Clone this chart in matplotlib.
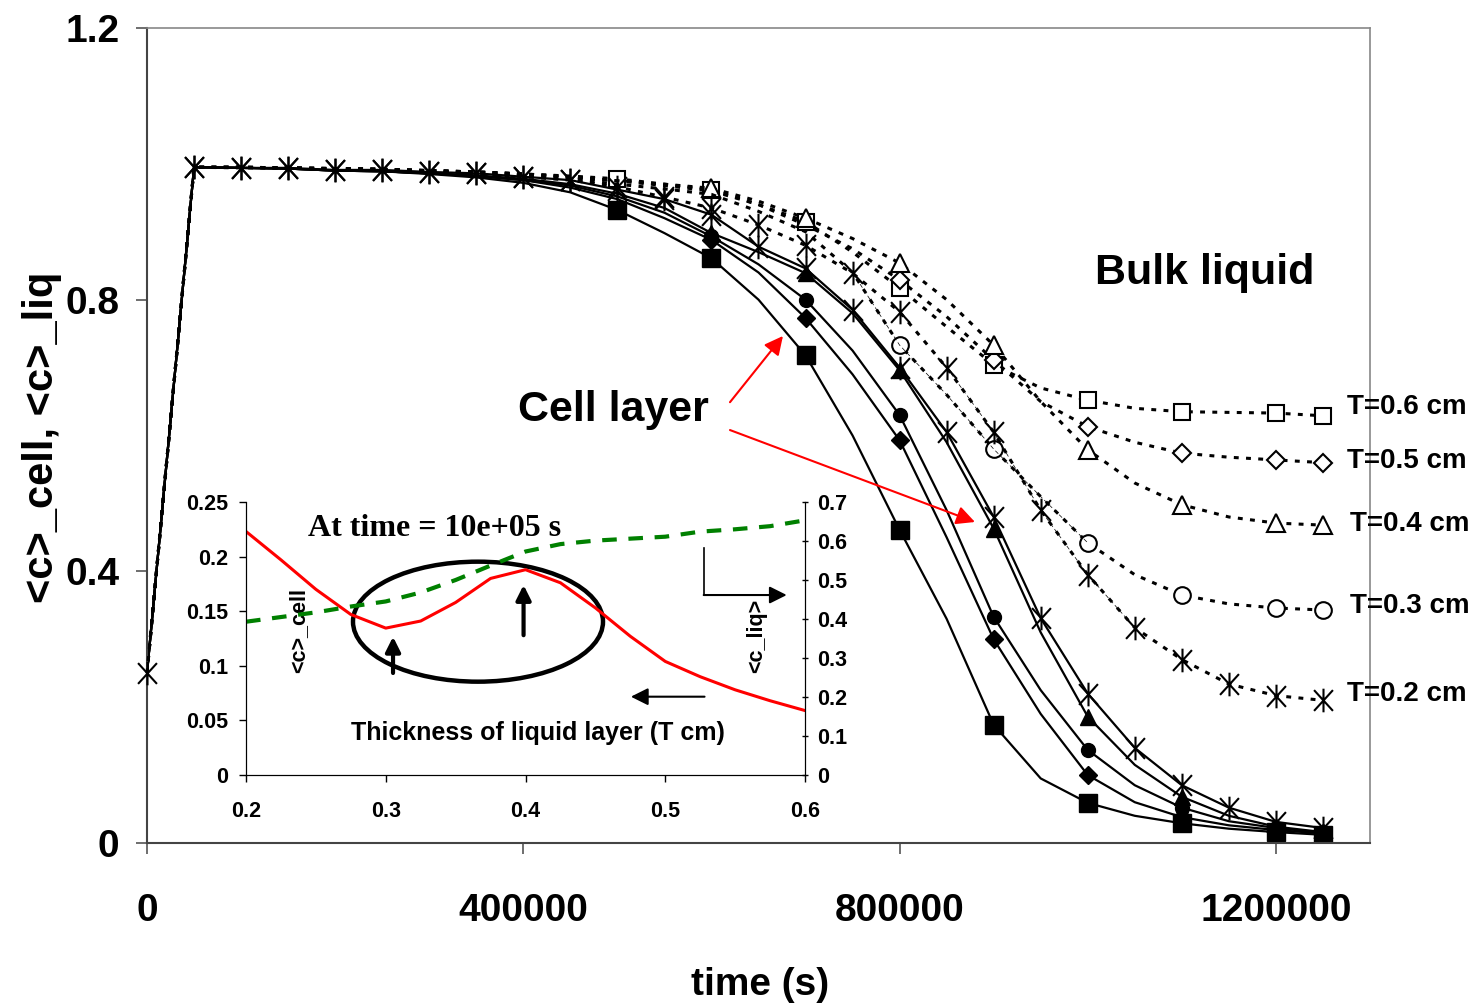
import numpy as np
import matplotlib.pyplot as plt
from matplotlib.path import Path
from matplotlib.patches import Ellipse

plt.rcParams['font.family'] = ['Liberation Sans', 'DejaVu Sans']
plt.rcParams['font.weight'] = 'bold'

# time axis (s), values every 50000 s
time = np.arange(0, 1250001, 50000)

# cell layer <c>_cell (solid lines)
cell_06 = [0.25, 0.995, 0.994, 0.993, 0.99, 0.989, 0.985, 0.98, 0.972, 0.958, 0.932, 0.898, 0.861, 0.80,
           0.718, 0.60, 0.461, 0.33, 0.174, 0.095, 0.059, 0.04, 0.029, 0.021, 0.016, 0.012]
cell_05 = [0.25, 0.995, 0.994, 0.993, 0.99, 0.989, 0.986, 0.982, 0.976, 0.965, 0.948, 0.92, 0.888, 0.84,
           0.773, 0.69, 0.593, 0.45, 0.30, 0.19, 0.10, 0.06, 0.038, 0.026, 0.019, 0.014]
cell_04 = [0.25, 0.995, 0.994, 0.993, 0.99, 0.989, 0.986, 0.983, 0.978, 0.97, 0.956, 0.935, 0.898, 0.87,
           0.839, 0.78, 0.696, 0.59, 0.463, 0.31, 0.186, 0.115, 0.068, 0.04, 0.024, 0.016]
cell_03 = [0.25, 0.995, 0.994, 0.993, 0.99, 0.989, 0.986, 0.982, 0.976, 0.968, 0.952, 0.928, 0.893, 0.852,
           0.80, 0.725, 0.63, 0.49, 0.333, 0.225, 0.137, 0.085, 0.052, 0.032, 0.022, 0.015]
cell_02 = [0.25, 0.995, 0.994, 0.994, 0.991, 0.991, 0.988, 0.986, 0.981, 0.976, 0.962, 0.948, 0.925, 0.878,
           0.846, 0.785, 0.70, 0.605, 0.48, 0.331, 0.22, 0.14, 0.085, 0.052, 0.031, 0.022]

# bulk liquid <c>_liq (dotted lines)
liq_06 = [0.25, 0.995, 0.995, 0.994, 0.993, 0.992, 0.99, 0.988, 0.985, 0.982, 0.978, 0.97, 0.962, 0.94,
          0.915, 0.87, 0.817, 0.76, 0.704, 0.67, 0.652, 0.64, 0.635, 0.634, 0.633, 0.629]
liq_05 = [0.25, 0.995, 0.995, 0.994, 0.993, 0.992, 0.99, 0.988, 0.985, 0.981, 0.975, 0.968, 0.96, 0.94,
          0.91, 0.875, 0.829, 0.775, 0.711, 0.65, 0.613, 0.59, 0.574, 0.568, 0.564, 0.56]
liq_04 = [0.25, 0.995, 0.995, 0.994, 0.993, 0.992, 0.99, 0.988, 0.985, 0.981, 0.975, 0.97, 0.964, 0.945,
          0.92, 0.89, 0.854, 0.80, 0.733, 0.65, 0.579, 0.53, 0.498, 0.48, 0.471, 0.468]
liq_03 = [0.25, 0.995, 0.995, 0.994, 0.993, 0.992, 0.99, 0.988, 0.985, 0.978, 0.97, 0.963, 0.955, 0.93,
          0.90, 0.84, 0.733, 0.66, 0.58, 0.51, 0.442, 0.395, 0.365, 0.352, 0.346, 0.343]
liq_02 = [0.25, 0.995, 0.994, 0.994, 0.991, 0.991, 0.988, 0.986, 0.981, 0.976, 0.966, 0.951, 0.935, 0.91,
          0.88, 0.839, 0.782, 0.70, 0.605, 0.49, 0.395, 0.317, 0.27, 0.234, 0.217, 0.21]

t_labels = ['T=0.6 cm', 'T=0.5 cm', 'T=0.4 cm', 'T=0.3 cm', 'T=0.2 cm']

# inset: values at time = 10e+05 s against liquid layer thickness
thick = [0.2, 0.225, 0.25, 0.275, 0.3, 0.325, 0.35, 0.375, 0.4, 0.425, 0.45, 0.475, 0.5, 0.525, 0.55, 0.575, 0.6]
c_cell = [0.223, 0.197, 0.170, 0.147, 0.1345, 0.141, 0.158, 0.180, 0.188, 0.176, 0.153, 0.127, 0.104,
          0.090, 0.078, 0.068, 0.059]
c_liq = [0.393, 0.405, 0.417, 0.432, 0.445, 0.468, 0.50, 0.537, 0.573, 0.592, 0.601, 0.606, 0.611,
         0.624, 0.630, 0.638, 0.653]

# asterisk marker: vertical bar + X
star = Path([(0, -1), (0, 1), (-0.8, -0.88), (0.8, 0.88), (-0.8, 0.88), (0.8, -0.88)],
            [Path.MOVETO, Path.LINETO, Path.MOVETO, Path.LINETO, Path.MOVETO, Path.LINETO])

fig = plt.figure(figsize=(14.82, 10.07), dpi=100)
ax = fig.add_axes([0.0992, 0.1629, 0.8252, 0.8093])

marks_cell = [12, 14, 16, 18, 20, 22, 24, 25]
marks_sq = [10] + marks_cell
marks_late = [16, 18, 20, 22, 24, 25]

cell_style = dict(color='black', lw=1.6)
ax.plot(time, cell_06, marker='s', ms=12.5, markevery=marks_sq, **cell_style)
ax.plot(time, cell_05, marker='D', ms=9.5, markevery=marks_cell, **cell_style)
ax.plot(time, cell_03, marker='o', ms=10, markevery=marks_cell, **cell_style)
ax.plot(time, cell_04, marker='^', ms=12, markevery=marks_cell, **cell_style)
ax.plot(time, cell_02, marker=star, ms=17, mew=1.5, markevery=list(range(1, 26)), **cell_style)

dot = (0, (1.6, 2.4))
liq_style = dict(color='black', lw=2.2, ls=dot, mfc='white', mec='black', mew=1.5)
ax.plot(time, liq_06, marker='s', ms=12, markevery=marks_sq, **liq_style)
ax.plot(time, liq_05, marker='D', ms=9.5, markevery=marks_late, **liq_style)
ax.plot(time, liq_04, marker='^', ms=12.5, markevery=marks_cell, **liq_style)
ax.plot(time, liq_03, marker='o', ms=12, markevery=marks_late, **liq_style)
ax.plot(time, liq_02, marker=star, ms=17, markevery=list(range(0, 26)),
        color='black', lw=2.2, ls=dot, mew=1.5, clip_on=False, zorder=3)
# thin dashed traces
ax.plot(time[15:21], liq_03[15:21], color='black', lw=0.5, ls=(0, (6, 4)))
ax.plot(time[17:22], liq_02[17:22], color='black', lw=0.5, ls=(0, (6, 4)))

ax.set_xlim(0, 1300000)
ax.set_ylim(0, 1.2)
ax.set_xticks([0, 400000, 800000, 1200000])
ax.set_xticklabels(['0', '400000', '800000', '1200000'])
ax.set_yticks([0, 0.4, 0.8, 1.2])
ax.set_yticklabels(['0', '0.4', '0.8', '1.2'])
ax.tick_params(axis='x', labelsize=28, length=8, width=1.2, pad=28, color='#555555')
ax.tick_params(axis='y', labelsize=28, length=8, width=1.2, pad=12, color='#555555')
for s in ['left', 'bottom']:
    ax.spines[s].set_color('#444444')
    ax.spines[s].set_linewidth(1.5)
for s in ['top', 'right']:
    ax.spines[s].set_color('#888888')
    ax.spines[s].set_linewidth(1.2)

fig.text(0.5128, 0.022, 'time (s)', ha='center', va='center', fontsize=28, fontweight='bold',
         family=['Liberation Sans Narrow', 'Liberation Sans'])
fig.text(0.0283, 0.566, '<c>_cell, <c>_liq', ha='center', va='center', rotation=90, fontsize=30,
         fontweight='bold', family=['Liberation Sans Narrow', 'Liberation Sans'])

ax.text(1124600, 0.839, 'Bulk liquid', ha='center', va='center', fontsize=31, fontweight='bold')
ax.text(495300, 0.6375, 'Cell layer', ha='center', va='center', fontsize=31, fontweight='bold')
t_pos = [(1275500, 0.642), (1276000, 0.562), (1278700, 0.470), (1278700, 0.349), (1275500, 0.219)]
for lab, (tx, ty) in zip(t_labels, t_pos):
    ax.text(tx, ty, lab, ha='left', va='center', fontsize=20, fontweight='bold', clip_on=False)

red_arrow = dict(arrowstyle='-|>', color='red', lw=1.5, mutation_scale=28, shrinkA=0, shrinkB=0)
ax.annotate('', xy=(676000, 0.7465), xytext=(619700, 0.649), arrowprops=red_arrow)
ax.annotate('', xy=(880100, 0.4726), xytext=(619700, 0.608), arrowprops=red_arrow)

# inset
ins = fig.add_axes([0.166, 0.2304, 0.3772, 0.2711], facecolor='none')
ins.plot(thick, c_cell, color='red', lw=2.2)
ins.set_xlim(0.2, 0.6)
ins.set_ylim(0, 0.25)
ins.set_xticks([0.2, 0.3, 0.4, 0.5, 0.6])
ins.set_yticks([0, 0.05, 0.1, 0.15, 0.2, 0.25])
ins.set_yticklabels(['0', '0.05', '0.1', '0.15', '0.2', '0.25'])
ins.set_xticklabels(['0.2', '0.3', '0.4', '0.5', '0.6'])
ins.tick_params(axis='y', labelsize=15.5, length=5, width=1, pad=8)
ins.tick_params(axis='x', labelsize=15.5, length=5, width=1, pad=14)
ins.spines['top'].set_visible(False)

insr = ins.twinx()
insr.plot(thick, c_liq, color='#008000', lw=3, ls=(0, (3.5, 2.8)))
insr.set_ylim(0, 0.7)
insr.set_yticks([0, 0.1, 0.2, 0.3, 0.4, 0.5, 0.6, 0.7])
insr.set_yticklabels(['0', '0.1', '0.2', '0.3', '0.4', '0.5', '0.6', '0.7'])
insr.tick_params(labelsize=15.5, length=5, width=1, direction='inout', pad=6)
insr.spines['top'].set_visible(False)

ins.text(0.2444, 0.226, 'At time = 10e+05 s', ha='left', va='center', fontsize=23, fontweight='bold',
         family=['Liberation Serif', 'DejaVu Serif'])
ins.add_patch(Ellipse((0.366, 0.1404), 0.1789, 0.1099, fill=False, lw=3.2, color='black'))
blk_arrow = dict(arrowstyle='-|>', color='black', lw=3, mutation_scale=22, shrinkA=0, shrinkB=0)
ins.annotate('', xy=(0.3052, 0.1266), xytext=(0.3052, 0.0934), arrowprops=blk_arrow)
ins.annotate('', xy=(0.3986, 0.174), xytext=(0.3986, 0.128), arrowprops=blk_arrow)
thin_arrow = dict(arrowstyle='-|>', color='black', lw=1.5, mutation_scale=26, shrinkA=0, shrinkB=0)
ins.annotate('', xy=(0.4754, 0.0717), xytext=(0.5281, 0.0717), arrowprops=thin_arrow)
ins.plot([0.5275, 0.5275], [0.2076, 0.1648], color='black', lw=1.2)
ins.annotate('', xy=(0.5869, 0.1648), xytext=(0.5275, 0.1648), arrowprops=thin_arrow)
ins.text(0.2375, 0.1319, '<c>_cell', rotation=90, ha='center', va='center', fontsize=15.5, fontweight='bold')
ins.text(0.5657, 0.1273, '<c_liq>', rotation=90, ha='center', va='center', fontsize=15.5, fontweight='bold')
ins.text(0.409, 0.0385, 'Thickness of liquid layer (T cm)', ha='center', va='center', fontsize=18,
         fontweight='bold')

fig.savefig('out.png', dpi=100)
